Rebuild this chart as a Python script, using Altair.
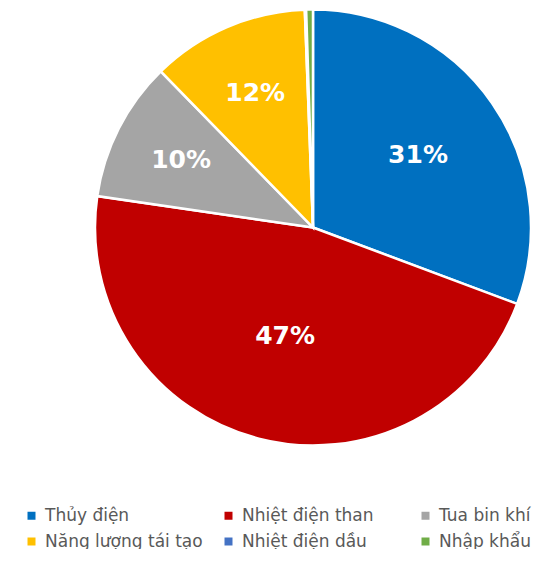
import altair as alt
import pandas as pd

categories = ["Thủy điện", "Nhiệt điện than", "Tua bin khí",
              "Năng lượng tái tạo", "Nhiệt điện dầu", "Nhập khẩu"]
values = [30.7, 46.6, 10.4, 11.7, 0.1, 0.5]
colors = ["#0070C0", "#C00000", "#A5A5A5", "#FFC000", "#4472C4", "#70AD47"]

labels = [f"{round(v)}%" if v >= 5 else "" for v in values]

df = pd.DataFrame({
    "cat": categories,
    "value": values,
    "order": list(range(len(categories))),
    "label": labels,
})

CX, CY, R = 305, 219.5, 218

base = alt.Chart(df).encode(
    theta=alt.Theta("value:Q", stack=True),
    order=alt.Order("order:Q"),
)

pie = base.mark_arc(outerRadius=R, stroke="white", strokeWidth=2.5).encode(
    x=alt.value(CX),
    y=alt.value(CY),
    color=alt.Color(
        "cat:N",
        scale=alt.Scale(domain=categories, range=colors),
        sort=categories,
        legend=alt.Legend(
            title=None,
            orient="none",
            direction="horizontal",
            legendX=15,
            legendY=499,
            columns=3,
            gridAlign="all",
            columnPadding=17,
            rowPadding=8,
            symbolType="square",
            symbolSize=64,
            symbolStrokeWidth=0,
            labelFont="DejaVu Sans",
            labelFontSize=17,
            labelColor="#595959",
            labelOffset=5,
            labelLimit=400,
            padding=0,
        ),
    ),
)

# Excel-style label placement: larger slices put their label nearer the centre
text = base.mark_text(
    font="DejaVu Sans",
    fontSize=25,
    fontWeight="bold",
    color="white",
    align="center",
    baseline="middle",
).encode(
    x=alt.value(CX),
    y=alt.value(CY),
    radius=alt.Radius("value:Q",
                      scale=alt.Scale(type="linear", zero=False,
                                      domain=[10.4, 46.6], range=[148, 112])),
    text="label:N",
)

chart = alt.layer(pie, text).properties(
    width=528,
    height=541,
    padding=0,
    autosize=alt.AutoSizeParams(type="none"),
).configure_view(stroke=None)

chart.save("out.html", embed_options={"renderer": "svg", "actions": False})
